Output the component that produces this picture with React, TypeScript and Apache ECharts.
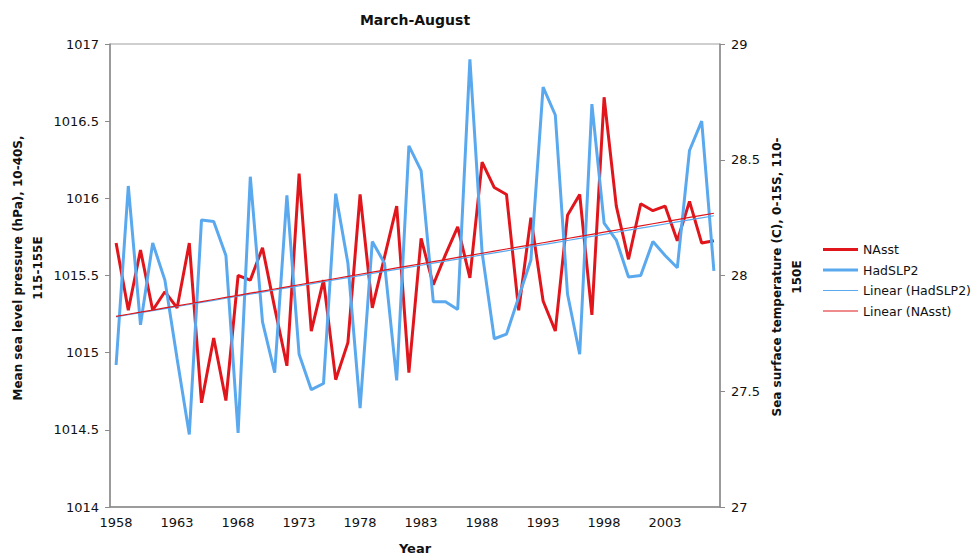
import React, { useEffect, useRef } from "react";
import * as echarts from "echarts";

const years: string[] = [];
for (let y = 1958; y <= 2007; y++) years.push(String(y));

const hadSLP2: number[] = [
  1014.92, 1016.08, 1015.18, 1015.71, 1015.47, 1014.96, 1014.47, 1015.86, 1015.85, 1015.63,
  1014.48, 1016.14, 1015.2, 1014.87, 1016.02, 1014.99, 1014.76, 1014.8, 1016.03, 1015.58,
  1014.64, 1015.72, 1015.58, 1014.82, 1016.34, 1016.18, 1015.33, 1015.33, 1015.28, 1016.9,
  1015.65, 1015.09, 1015.12, 1015.36, 1015.6, 1016.72, 1016.54, 1015.38, 1014.99, 1016.61,
  1015.84, 1015.73, 1015.49, 1015.5, 1015.72, 1015.63, 1015.55, 1016.31, 1016.5, 1015.53,
];

const nAsst: number[] = [
  28.14, 27.85, 28.11, 27.85, 27.93, 27.86, 28.14, 27.45, 27.73, 27.46,
  28.0, 27.98, 28.12, 27.86, 27.61, 28.44, 27.76, 27.98, 27.55, 27.71,
  28.35, 27.86, 28.08, 28.3, 27.58, 28.16, 27.96, 28.09, 28.21, 27.99,
  28.49, 28.38, 28.35, 27.85, 28.25, 27.89, 27.76, 28.26, 28.35, 27.83,
  28.77, 28.3, 28.07, 28.31, 28.28, 28.3, 28.15, 28.32, 28.14, 28.15,
];

const leftTicks = { min: 1014, max: 1017, interval: 0.5 };
const rightTicks = { min: 27, max: 29, interval: 0.5 };

function linearFit(vals: number[]): number[] {
  const n = vals.length;
  let sx = 0, sy = 0, sxx = 0, sxy = 0;
  for (let i = 0; i < n; i++) {
    sx += i; sy += vals[i]; sxx += i * i; sxy += i * vals[i];
  }
  const b = (n * sxy - sx * sy) / (n * sxx - sx * sx);
  const a = (sy - b * sx) / n;
  return vals.map((_, i) => +(a + b * i).toFixed(4));
}

const RED = "#e0161c";
const BLUE = "#5aa9ef";
const FONT = "DejaVu Sans";
const THICK_ICON = "path://M0,0 H35 V3 H0 Z";
const THIN_ICON = "path://M0,0 H35 V1.2 H0 Z";

export default function App() {
  const ref = useRef<HTMLDivElement>(null);
  useEffect(() => {
    if (!ref.current) return;
    const chart = echarts.init(ref.current, undefined, { renderer: "svg" });
    const axisGray = "#8a8a8a";
    chart.setOption({
      animation: false,
      backgroundColor: "#fff",
      textStyle: { fontFamily: FONT },
      grid: { left: 110, right: 260, top: 44, bottom: 51, show: true, borderColor: "#a0a0a0", borderWidth: 1 },
      legend: {
        orient: "vertical",
        left: 818,
        top: 238,
        itemWidth: 35,
        itemHeight: 14,
        itemGap: 7.5,
        textStyle: { fontFamily: FONT, fontSize: 12.5, color: "#111" },
        data: [
          { name: "NAsst", icon: THICK_ICON },
          { name: "HadSLP2", icon: THICK_ICON },
          { name: "Linear (HadSLP2)", icon: THIN_ICON },
          { name: "Linear (NAsst)", icon: THIN_ICON },
        ],
      },
      xAxis: {
        type: "category",
        data: years,
        boundaryGap: true,
        axisLine: { lineStyle: { color: axisGray, width: 1.5 } },
        axisTick: { interval: 0, length: 5, lineStyle: { color: axisGray } },
        axisLabel: { interval: 4, fontSize: 13, color: "#111", margin: 9, fontFamily: FONT },
        splitLine: { show: false },
      },
      yAxis: [
        {
          type: "value",
          ...leftTicks,
          position: "left",
          axisLine: { show: true, lineStyle: { color: axisGray, width: 1.5 } },
          axisTick: { show: true, length: 5, lineStyle: { color: axisGray } },
          axisLabel: { fontSize: 13, color: "#111", margin: 11, fontFamily: FONT, formatter: (v: number) => String(v) },
          splitLine: { show: false },
        },
        {
          type: "value",
          ...rightTicks,
          position: "right",
          axisLine: { show: true, lineStyle: { color: axisGray, width: 1.5 } },
          axisTick: { show: true, length: 5, lineStyle: { color: axisGray } },
          axisLabel: { fontSize: 13, color: "#111", margin: 11, fontFamily: FONT, formatter: (v: number) => String(v) },
          splitLine: { show: false },
        },
      ],
      series: [
        {
          name: "NAsst", type: "line", yAxisIndex: 1, data: nAsst, showSymbol: false, symbol: "none",
          lineStyle: { color: RED, width: 3 }, itemStyle: { color: RED }, z: 2,
        },
        {
          name: "HadSLP2", type: "line", yAxisIndex: 0, data: hadSLP2, showSymbol: false, symbol: "none",
          lineStyle: { color: BLUE, width: 3 }, itemStyle: { color: BLUE }, z: 3,
        },
        {
          name: "Linear (HadSLP2)", type: "line", yAxisIndex: 0, data: linearFit(hadSLP2), showSymbol: false, symbol: "none",
          lineStyle: { color: BLUE, width: 1.2 }, itemStyle: { color: BLUE }, z: 4,
        },
        {
          name: "Linear (NAsst)", type: "line", yAxisIndex: 1, data: linearFit(nAsst), showSymbol: false, symbol: "none",
          lineStyle: { color: RED, width: 1.2 }, itemStyle: { color: RED }, z: 5,
        },
      ],
      graphic: [
        { type: "text", x: 415, y: 20, style: { text: "March-August", font: `bold 14px ${FONT}`, fill: "#111", align: "center", verticalAlign: "middle" } },
        { type: "text", x: 415, y: 548, style: { text: "Year", font: `bold 13px ${FONT}`, fill: "#111", align: "center", verticalAlign: "middle" } },
        {
          type: "text", x: 28, y: 268, rotation: Math.PI / 2,
          style: { text: "Mean sea level pressure (hPa), 10-40S,\n115-155E", font: `bold 12px ${FONT}`, fill: "#111", align: "center", verticalAlign: "middle", lineHeight: 20 },
        },
        {
          type: "text", x: 787, y: 277, rotation: Math.PI / 2,
          style: { text: "Sea surface temperature (C), 0-15S, 110-\n150E", font: `bold 12px ${FONT}`, fill: "#111", align: "center", verticalAlign: "middle", lineHeight: 20 },
        },
      ],
    });
    return () => chart.dispose();
  }, []);
  return <div ref={ref} style={{ position: "fixed", left: 0, top: 0, width: 980, height: 558 }} />;
}
